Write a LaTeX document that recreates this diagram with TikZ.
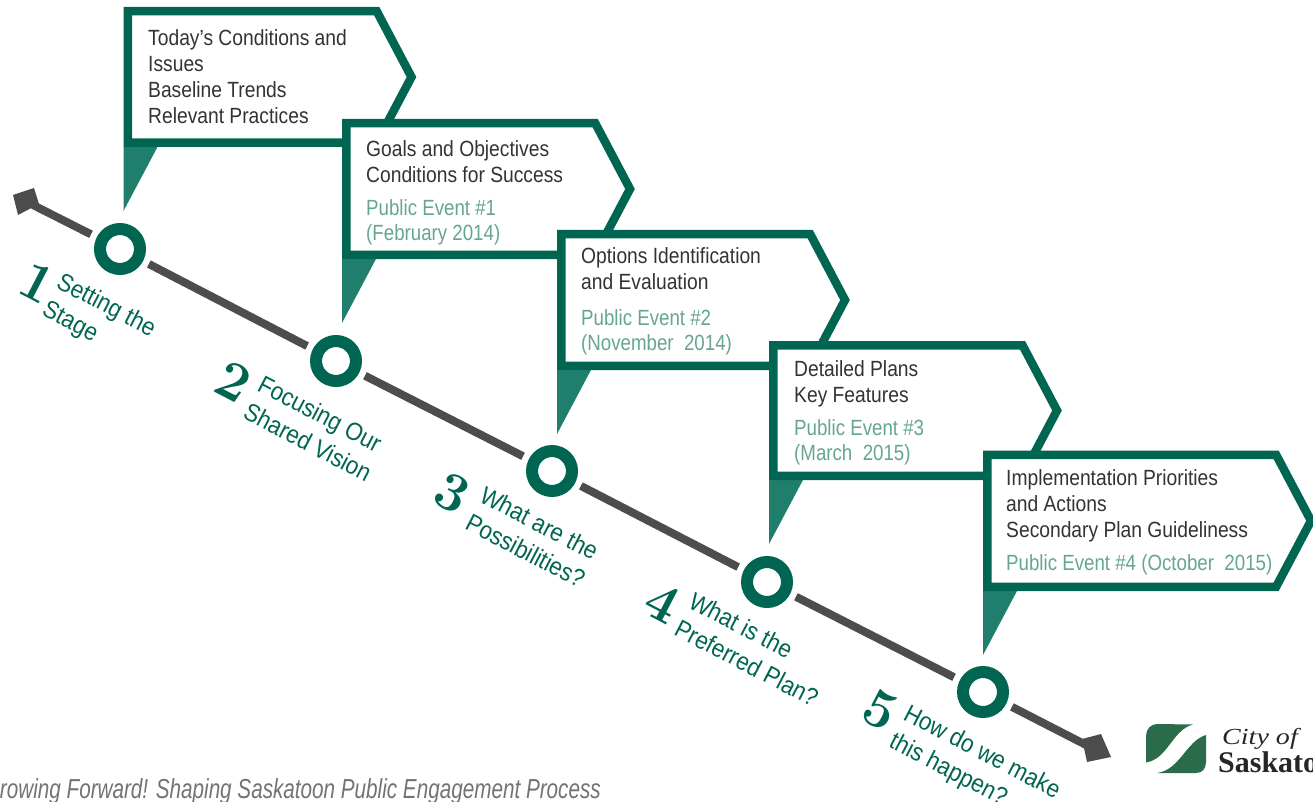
\documentclass[tikz,border=0pt]{standalone}
\usepackage{fontspec}
\newfontfamily\narrowfont[FakeStretch=0.875]{Liberation Sans}
\newfontfamily\eventfont[FakeStretch=0.85]{Liberation Sans}
\newfontfamily\stepfont[FakeStretch=0.9]{Liberation Sans}
\newfontfamily\capfont[FakeStretch=0.752]{Liberation Sans}
\newfontfamily\logoserif{Liberation Serif}
\newfontfamily\logowide[FakeStretch=1.22]{Liberation Serif}
\definecolor{dkgreen}{HTML}{006651}
\definecolor{tailgreen}{HTML}{1F7F6C}
\definecolor{evgreen}{HTML}{66A594}
\definecolor{linegrey}{HTML}{4D4D4D}
\definecolor{bodytext}{HTML}{333333}
\definecolor{logogreen}{HTML}{2A6B4B}
\tikzset{
  boxtext/.style={anchor=north west,inner sep=0pt,align=left,text=bodytext,
    font=\narrowfont\fontsize{22}{26}\selectfont},
  eventtext/.style={boxtext,text=evgreen,font=\eventfont\fontsize{22}{25.5}\selectfont},
  ring/.style={circle,draw=dkgreen,fill=white,line width=12pt,minimum size=40pt,inner sep=0pt},
  steptext/.style={anchor=north west,inner sep=0pt,align=left,rotate=-27.5,text=dkgreen,
    font=\stepfont\fontsize{25}{31}\selectfont},
  stepnum/.style={inner sep=0pt,rotate=-27.5,text=dkgreen,
    font=\bfseries\fontsize{55}{55}\selectfont},
  timeline/.style={draw=linegrey,line width=8pt},
  boxline/.style={draw=dkgreen,fill=white,line width=8.5pt,miter limit=10},
}
\newcommand{\fl}{\rule{0pt}{16pt}}
% left, top, bottom, width
\newcommand{\callout}[4]{%
  \pgfmathsetmacro{\Lx}{#1+4.25}
  \pgfmathsetmacro{\Ty}{#2+4.25}
  \pgfmathsetmacro{\By}{#3-4.25}
  \pgfmathsetmacro{\Tx}{#1+#4-5}
  \pgfmathsetmacro{\My}{(#2+#3)/2}
  \pgfmathsetmacro{\Cx}{\Tx-(\By-\Ty)/2*0.5286}
  \pgfmathsetmacro{\Sx}{#1+34.5}
  \pgfmathsetmacro{\Sy}{#3+64}
  \fill[tailgreen] (#1,#3-1) -- (\Sx,#3-1) -- (#1,\Sy) -- cycle;
  \path[boxline] (\Lx,\Ty) -- (\Cx,\Ty) -- (\Tx,\My) -- (\Cx,\By) -- (\Lx,\By) -- cycle;
}
\begin{document}
\begin{tikzpicture}[x=1pt,y=-1pt]
\useasboundingbox (0,0) rectangle (1313,802);
\clip (0,0) rectangle (1313,802);
% timeline
\fill[linegrey] (13,195) -- (34,188) -- (39,204) -- (18,215) -- cycle;
\fill[linegrey] (1082,739) -- (1101,734) -- (1111,757) -- (1087,762) -- cycle;
\coordinate (startpt) at (33,205);
\coordinate (endpt) at (1090,747);
\node[ring] (c1) at (120,249) {};
\node[ring] (c2) at (336,361) {};
\node[ring] (c3) at (552,471) {};
\node[ring] (c4) at (767,582) {};
\node[ring] (c5) at (983,692) {};
\draw[timeline,shorten >=6.5pt] (startpt) -- (c1);
\draw[timeline,shorten <=6.5pt,shorten >=6.5pt] (c1) -- (c2);
\draw[timeline,shorten <=6.5pt,shorten >=6.5pt] (c2) -- (c3);
\draw[timeline,shorten <=6.5pt,shorten >=6.5pt] (c3) -- (c4);
\draw[timeline,shorten <=6.5pt,shorten >=6.5pt] (c4) -- (c5);
\draw[timeline,shorten <=6.5pt] (c5) -- (endpt);
% callouts
\callout{123.5}{7}{147}{293}
\callout{342}{119}{259}{293}
\callout{557}{230}{370}{293}
\callout{769}{341}{480}{293}
\callout{983}{450.5}{591}{333}
% callout texts
\node[boxtext] (b1) at (148,29.5) {\fl Today’s Conditions and\\Issues\\Baseline Trends\\Relevant Practices};
\node[boxtext] (b2) at (366,140) {\fl Goals and Objectives\\Conditions for Success};
\node[eventtext] (e2) at (366,199) {\fl Public Event \#1\\(February 2014)};
\node[boxtext] (b3) at (581,247) {\fl Options Identification\\and Evaluation};
\node[eventtext] (e3) at (581,309) {\fl Public Event \#2\\(November\ \ 2014)};
\node[boxtext] (b4) at (794,360) {\fl Detailed Plans\\Key Features};
\node[eventtext] (e4) at (794,419) {\fl Public Event \#3\\(March\ \ 2015)};
\node[boxtext] (b5) at (1006,469) {\fl Implementation Priorities\\and Actions\\Secondary Plan Guideliness};
\node[eventtext] (e5) at (1006,554) {\fl Public Event \#4 (October\ \ 2015)};
% step labels
\node[stepnum] (n1) at (38,283) {1};
\node[stepnum] (n2) at (234,382) {2};
\node[stepnum] (n3) at (452,493) {3};
\node[stepnum] (n4) at (663,603) {4};
\node[stepnum] (n5) at (880,710) {5};
\node[steptext] (s1) at (63.4,270.8) {\fl Setting the\\Stage};
\node[steptext] (s2) at (264.4,373.8) {\fl Focusing Our\\Shared Vision};
\node[steptext] (s3) at (486.4,484.8) {\fl What are the\\Possibilities?};
\node[steptext] (s4) at (695.4,590.8) {\fl What is the\\Preferred Plan?};
\node[steptext] (s5) at (910.4,702.8) {\fl How do we make\\this happen?};
% caption
\node[anchor=base east,inner sep=0pt,text=black!55,font=\capfont\itshape\fontsize{27.5}{27.5}\selectfont] (cap) at (601,798) {Growing Forward! Shaping Saskatoon Public Engagement Process};
% logo
\fill[logogreen] (1157,724) -- (1193,724.5) .. controls (1172,730) and (1168,759) .. (1146,762.5) -- (1146,736) .. controls (1146,729) and (1151,724) .. (1157,724) -- cycle;
\fill[logogreen] (1206,735) -- (1206,762) .. controls (1206,769) and (1202,773) .. (1196,773) -- (1157,773) .. controls (1180,770) and (1186,741) .. (1206,735) -- cycle;
\node[anchor=base west,inner sep=0pt,text=black!85,font=\logowide\itshape\fontsize{23}{23}\selectfont] (city) at (1222,744) {City of};
\node[anchor=base west,inner sep=0pt,text=black!85,font=\logoserif\bfseries\fontsize{30}{30}\selectfont] (sask) at (1218,772) {Saskatoon};
\end{tikzpicture}
\end{document}
